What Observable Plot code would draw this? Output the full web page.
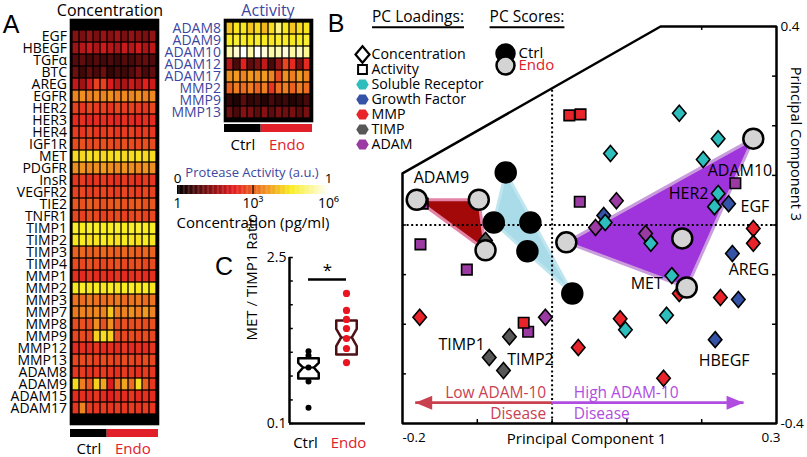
<!DOCTYPE html>
<html><head><meta charset="utf-8">
<script src="https://cdn.jsdelivr.net/npm/d3@7"></script>
<script src="https://cdn.jsdelivr.net/npm/@observablehq/plot@0.6"></script>
<style>
body{margin:0;background:#fff;}
#fig{position:relative;width:807px;height:457px;overflow:hidden;font-family:"Open Sans",sans-serif;color:#000;background:#fff;}
.t{position:absolute;white-space:nowrap;line-height:1;}
</style></head><body><div id="fig"></div>
<script>
// ================= DATA =================
const sampleGroup = ["Ctrl","Ctrl","Ctrl","Ctrl","Ctrl","Endo","Endo","Endo","Endo","Endo","Endo","Endo"];
const groupNames = ["Ctrl","Endo"];
const groupColors = ["#000000","#e2202a"];

const concRows = ["EGF","HBEGF","TGFα","BTC","AREG","EGFR","HER2","HER3","HER4","IGF1R","MET","PDGFR","InsR","VEGFR2","TIE2","TNFR1","TIMP1","TIMP2","TIMP3","TIMP4","MMP1","MMP2","MMP3","MMP7","MMP8","MMP9","MMP12","MMP13","ADAM8","ADAM9","ADAM15","ADAM17"];
// colour level (log10 concentration / 6) per row, 12 samples
const concLevels = [
 [0.22,0.20,0.24,0.20,0.25,0.22,0.26,0.20,0.24,0.22,0.20,0.24],
 [0.26,0.30,0.33,0.28,0.34,0.30,0.28,0.33,0.30,0.34,0.28,0.31],
 [0.14,0.16,0.12,0.14,0.11,0.13,0.10,0.14,0.12,0.15,0.17,0.13],
 [0.18,0.10,0.16,0.12,0.18,0.08,0.12,0.10,0.14,0.20,0.12,0.16],
 [0.32,0.26,0.35,0.44,0.44,0.36,0.30,0.28,0.34,0.30,0.38,0.34],
 [0.56,0.58,0.55,0.57,0.56,0.58,0.55,0.57,0.56,0.58,0.55,0.57],
 [0.44,0.42,0.45,0.43,0.44,0.42,0.45,0.43,0.44,0.43,0.42,0.45],
 [0.40,0.41,0.39,0.40,0.41,0.40,0.39,0.41,0.40,0.39,0.41,0.40],
 [0.43,0.42,0.44,0.42,0.43,0.44,0.42,0.43,0.44,0.42,0.43,0.42],
 [0.46,0.47,0.45,0.46,0.47,0.46,0.45,0.47,0.46,0.45,0.47,0.46],
 [0.72,0.71,0.73,0.72,0.71,0.72,0.73,0.71,0.72,0.73,0.71,0.72],
 [0.58,0.59,0.57,0.58,0.60,0.58,0.57,0.59,0.58,0.57,0.59,0.58],
 [0.42,0.43,0.41,0.42,0.43,0.42,0.41,0.43,0.42,0.41,0.43,0.42],
 [0.44,0.45,0.43,0.44,0.45,0.44,0.43,0.45,0.44,0.43,0.45,0.44],
 [0.48,0.47,0.49,0.48,0.47,0.48,0.49,0.47,0.48,0.49,0.47,0.48],
 [0.45,0.44,0.46,0.45,0.44,0.45,0.46,0.44,0.45,0.46,0.44,0.45],
 [0.76,0.75,0.77,0.76,0.75,0.76,0.77,0.75,0.76,0.77,0.75,0.76],
 [0.74,0.75,0.73,0.74,0.75,0.74,0.73,0.75,0.74,0.73,0.75,0.74],
 [0.50,0.51,0.49,0.50,0.51,0.50,0.49,0.51,0.50,0.49,0.51,0.50],
 [0.46,0.45,0.47,0.46,0.45,0.46,0.47,0.45,0.46,0.47,0.45,0.46],
 [0.41,0.40,0.42,0.40,0.41,0.40,0.42,0.40,0.41,0.42,0.40,0.41],
 [0.74,0.76,0.74,0.75,0.74,0.76,0.74,0.75,0.76,0.74,0.75,0.74],
 [0.53,0.52,0.54,0.53,0.52,0.53,0.54,0.52,0.53,0.54,0.52,0.53],
 [0.54,0.56,0.55,0.57,0.56,0.68,0.55,0.56,0.58,0.55,0.60,0.56],
 [0.46,0.47,0.46,0.58,0.47,0.58,0.46,0.47,0.46,0.47,0.46,0.47],
 [0.45,0.46,0.45,0.70,0.72,0.70,0.46,0.45,0.46,0.45,0.46,0.45],
 [0.40,0.41,0.40,0.42,0.40,0.41,0.40,0.42,0.40,0.41,0.40,0.42],
 [0.45,0.46,0.45,0.44,0.46,0.45,0.44,0.46,0.45,0.44,0.46,0.45],
 [0.42,0.43,0.41,0.42,0.43,0.42,0.41,0.43,0.42,0.41,0.43,0.42],
 [0.72,0.55,0.48,0.70,0.62,0.36,0.52,0.62,0.52,0.72,0.50,0.42],
 [0.40,0.41,0.40,0.42,0.40,0.38,0.41,0.40,0.42,0.40,0.41,0.40],
 [0.42,0.56,0.43,0.42,0.43,0.42,0.43,0.42,0.43,0.42,0.43,0.42]
];

const actRows = ["ADAM8","ADAM9","ADAM10","ADAM12","ADAM17","MMP2","MMP9","MMP13"];
const actLevels = [
 [0.68,0.74,0.74,0.68,0.72,0.65,0.72,0.86,0.74,0.68,0.72,0.74],
 [0.75,0.77,0.76,0.74,0.77,0.75,0.74,0.77,0.76,0.74,0.75,0.77],
 [0.90,0.95,1.00,0.90,1.00,0.96,0.90,0.92,0.96,0.90,0.93,0.88],
 [0.30,0.12,0.38,0.15,0.20,0.32,0.12,0.25,0.45,0.40,0.20,0.40],
 [0.58,0.60,0.56,0.60,0.58,0.60,0.56,0.45,0.58,0.55,0.60,0.56],
 [0.50,0.55,0.52,0.55,0.50,0.55,0.42,0.52,0.55,0.50,0.55,0.52],
 [0.08,0.05,0.15,0.08,0.10,0.06,0.12,0.08,0.10,0.06,0.08,0.12],
 [0.18,0.12,0.22,0.20,0.15,0.22,0.15,0.20,0.18,0.20,0.15,0.20]
];

// colourbar tick labels
const cbBottomTicks = [0, 3, 6];
const cbBottomLabels = ["1", "10³", "10⁶"];
const cbTopTicks = [0, 6];
const cbTopLabels = ["0", "1"];

// Panel C: MET / TIMP1 ratio
const ctrlRatio = [0.405, 0.374, 0.296, 0.226, 0.136];
const endoRatio = [1.245, 0.895, 0.752, 0.631, 0.520, 0.428, 0.326];
const boxQ1  = [0.239, 0.381];
const boxMed = [0.296, 0.530];
const boxQ3  = [0.355, 0.738];
const cTicks = [0.1, 0.158, 0.251, 0.398, 0.631, 1, 1.585, 2.5];
const cTickLabels = [0.1, 2.5];
const sigLevel = 1.63;

// Panel B: PC loadings (concentration = diamonds)
const concPC1 = [0.236,0.218,0.241,0.249,0.069,
                 0.170,0.078,0.222,0.202,0.222,0.217,0.071,0.132,0.160,0.153,0.098,
                 -0.177,0.269,0.269,0.170,0.225,0.091,0.035,0.149,
                 -0.089,-0.057,-0.084,-0.065,
                 -0.009,0.086,0.058,0.125];
const concPC3 = [0.043,-0.231,-0.0575,-0.150,0.019,
                 0.225,0.144,0.174,0.132,0.0635,0.037,0.005,-0.037,-0.102,-0.182,-0.211,
                 -0.186,-0.007,-0.037,-0.138,-0.146,-0.189,-0.247,-0.309,
                 -0.031,-0.225,-0.267,-0.293,
                 -0.186,0.049,-0.005,-0.017];
const concClass = ["GF","GF","GF","GF","GF",
                   "SR","SR","SR","SR","SR","SR","SR","SR","SR","SR","SR",
                   "MMP","MMP","MMP","MMP","MMP","MMP","MMP","MMP",
                   "TIMP","TIMP","TIMP","TIMP",
                   "ADAM","ADAM","ADAM","ADAM"];
// activity = squares
const actPC1 = [-0.173,-0.176,-0.114,-0.032,0.245,0.037, 0.023,0.038,-0.038];
const actPC3 = [0.043,-0.039,-0.090,-0.215,0.084,0.047, 0.221,0.223,-0.197];
const actClass = ["ADAM","ADAM","ADAM","ADAM","ADAM","ADAM","MMP","MMP","MMP"];

const classNames = ["SR","GF","MMP","TIMP","ADAM"];
const classColors = ["#2dbdbd","#3452a6","#e8242a","#575757","#9a3aa2"];
const legendEntries = ["Concentration","Activity","Soluble Receptor","Growth Factor","MMP","TIMP","ADAM"];

// PC scores
const scorePC1 = [-0.062,-0.078,-0.029,-0.033,0.027, -0.181,-0.098,-0.089, 0.019,0.174,0.180,0.269];
const scorePC3 = [0.106,0.005,0.005,-0.053,-0.138, 0.051,0.051,-0.051, -0.035,-0.027,-0.126,0.174];
const scoreHull = ["ctrl","ctrl","ctrl","ctrl","ctrl","low","low","low","high","high","high","high"];
const hullNames = ["ctrl","low","high"];
const hullFills = ["#a9dbe8","#a30909","#9f33dc"];
const hullStrokes = ["#bfe5ef","#e483a6","#c99ddc"];

// frame outline of panel B
const frameX = [-0.2, 0.145, 0.3, 0.3, -0.2, -0.2];
const frameY = [0.104, 0.4, 0.4, -0.4, -0.4, 0.104];
const xTicks = [-0.1, 0, 0.1, 0.2];
const yTicks = [-0.3, -0.2, -0.1, 0, 0.1, 0.2, 0.3];

// annotations of panel B
const pcLabelText = ["ADAM9","ADAM10","HER2","EGF","AREG","MET","HBEGF","TIMP1","TIMP2"];
const pcLabelX = [-0.185, 0.208, 0.156, 0.252, 0.236, 0.105, 0.196, -0.152, -0.060];
const pcLabelY = [0.094, 0.110, 0.063, 0.037, -0.091, -0.1185, -0.2735, -0.241, -0.271];
const arrowY = -0.358;
const arrowTips = [-0.183, 0.256];
const arrowColors = ["#c9414f", "#b04ce0"];
const arrowLine1 = ["Low ADAM-10", "High ADAM-10"];
const arrowLine2 = ["Disease", "Disease"];
const arrowTextX = [-0.008, 0.029];
const arrowTextY1 = -0.338, arrowTextY2 = -0.380;

// ================= HELPERS =================
const fig = document.getElementById("fig");
const FONT = "Open Sans";
const hotScale = d3.scaleLinear().domain([0, 0.375, 0.75, 1]).range(["#000000","#e41d1f","#f9ed1f","#ffffff"]).clamp(true);
const hot = t => hotScale(t);
function put(el, left, top){ el.style.position="absolute"; el.style.left=left+"px"; el.style.top=top+"px"; el.style.margin="0"; fig.appendChild(el); return el; }
function label(text, x, y, o={}){
  const d=document.createElement("div"); d.className="t"; d.textContent=text;
  d.style.left=x+"px"; d.style.top=y+"px"; d.style.fontSize=(o.size||14)+"px";
  d.style.color=o.color||"#000"; d.style.fontFamily=o.family||FONT;
  const ax = o.anchor==="start"?"0":o.anchor==="end"?"-100%":"-50%";
  d.style.transform=`translate(${ax},-50%)`;
  if(o.underline){ d.style.textDecoration="underline"; d.style.textDecorationThickness="2px"; d.style.textUnderlineOffset="4px"; }
  fig.appendChild(d); return d;
}
const baseStyle = (size, color="#000") => ({fontFamily: FONT, fontSize: size+"px", background:"transparent", overflow:"visible", color});
const sampleIds = d3.range(sampleGroup.length);
const groupSpans = groupNames.map((g,i)=>({g, c: groupColors[i], x1: sampleGroup.indexOf(g), x2: sampleGroup.lastIndexOf(g)+1}));

function heatmap(rows, levels, o){
  const cells = rows.flatMap((r,i)=>levels[i].map((v,j)=>({row:r, s:j, v})));
  return Plot.plot({
    width:o.width, height:o.height, marginLeft:o.ml, marginRight:o.mr, marginTop:o.mt, marginBottom:o.mb,
    x:{type:"band", domain:sampleIds, axis:null, padding:0},
    y:{type:"band", domain:rows, padding:0, axis:null},
    color:{type:"linear", domain:[0,1], interpolate:hot},
    style: baseStyle(14),
    marks:[
      Plot.frame({fill:"black"}),
      Plot.cell(cells, {x:"s", y:"row", fill:"v", inset:0.65}),
      Plot.frame({stroke:"black", strokeWidth:1.6}),
      Plot.text(rows, {y:d=>d, text:d=>d, frameAnchor:"left", textAnchor:"end", dx:-3.5, fontSize:14, fill:o.color||"#000"})
    ]
  });
}
function groupBar(o){
  return Plot.plot({
    width:o.width, height:o.height, marginLeft:o.ml, marginRight:o.mr, marginTop:o.mt, marginBottom:o.mb,
    x:{domain:[0, sampleGroup.length], axis:null},
    y:{domain:[0,1], axis:null},
    color:{type:"identity"},
    style: baseStyle(15),
    marks:[
      Plot.rect(groupSpans, {x1:"x1", x2:"x2", y1:0, y2:1, fill:"c"}),
      Plot.text(groupSpans, {x:d=>(d.x1+d.x2)/2, y:0, dy:o.dy, text:"g", fill:"c", fontSize:15})
    ]
  });
}

// ================= PANEL A =================
put(heatmap(concRows, concLevels, {width:162, height:428, ml:70, mr:4, mt:19, mb:4}), 0, 0);
put(groupBar({width:162, height:33, ml:70, mr:4, mt:3, mb:22, dy:12}), 0, 426);
label("Concentration", 110, 9.5, {size:16});
label("A", 11, 24, {size:25, family:"Liberation Sans"});

put(heatmap(actRows, actLevels, {width:165, height:124, ml:74, mr:3, mt:19, mb:3, color:"#3c46a0"}), 150, 0);
put(groupBar({width:165, height:33, ml:74, mr:3, mt:3, mb:22, dy:13}), 150, 121);
label("Activity", 268, 9.5, {size:16, color:"#3c46a0"});

// colour bar
const cbStops = d3.range(0, 6, 0.05);
put(Plot.plot({
  width:175, height:70, marginLeft:7, marginRight:17, marginTop:25, marginBottom:36,
  x:{domain:[0,6], axis:null}, y:{domain:[0,1], axis:null},
  color:{type:"linear", domain:[0,1], interpolate:hot},
  style: baseStyle(13),
  marks:[
    Plot.rect(cbStops, {x1:d=>d, x2:d=>Math.min(6, d+0.06), y1:0, y2:1, fill:d=>d/6}),
    Plot.ruleX([3], {y1:0, y2:1, stroke:"black", strokeWidth:1.2}),
    Plot.text(cbBottomTicks, {x:d=>d, y:0, dy:9, text:(d,i)=>cbBottomLabels[i], fontSize:14}),
    Plot.text(cbTopTicks, {x:d=>d, y:1, dy:-7, text:(d,i)=>cbTopLabels[i], fontSize:13.5})
  ]
}), 170, 160);
label("Protease Activity (a.u.)", 252, 172, {size:13, color:"#3c46a0"});
label("Concentration (pg/ml)", 253, 222, {size:15});

// ================= PANEL C =================
const cDots = [...ctrlRatio.map(v=>({x:1, v})), ...endoRatio.map(v=>({x:2, v}))];
const lg = Math.log10;
const boxW = 0.27, waistW = 0.14;
const boxPts = groupNames.flatMap((g,i)=>{
  const x=i+1, q1=boxQ1[i], m=boxMed[i], q3=boxQ3[i];
  const nHi = 10**(lg(m)+0.5*(lg(q3)-lg(m))), nLo = 10**(lg(m)+0.5*(lg(q1)-lg(m)));
  return [[x-boxW,q3],[x+boxW,q3],[x+boxW,nHi],[x+waistW,m],[x+boxW,nLo],[x+boxW,q1],[x-boxW,q1],[x-boxW,nLo],[x-waistW,m],[x-boxW,nHi]]
    .map(([px,py])=>({g, x:px, y:py}));
});
const boxColor = ["#000000","#4d1014"];
put(Plot.plot({
  width:150, height:215, marginLeft:69, marginRight:5, marginTop:17, marginBottom:32,
  x:{domain:[0.5,2.5], axis:null},
  y:{type:"log", domain:[0.1,2.5], axis:null},
  style: baseStyle(14),
  marks:[
    Plot.ruleY(cTicks, {x1:0.5, x2:0.6, strokeWidth:1.5}),
    Plot.line(boxPts.filter(d=>d.g==="Ctrl"), {x:"x", y:"y", curve:"linear-closed", stroke:boxColor[0], strokeWidth:2.5}),
    Plot.line(boxPts.filter(d=>d.g==="Endo"), {x:"x", y:"y", curve:"linear-closed", stroke:boxColor[1], strokeWidth:2.5}),
    Plot.link([0], {x1:1-waistW, x2:1+waistW, y1:boxMed[0], y2:boxMed[0], stroke:boxColor[0], strokeWidth:2}),
    Plot.link([0], {x1:2-waistW, x2:2+waistW, y1:boxMed[1], y2:boxMed[1], stroke:boxColor[1], strokeWidth:2}),
    Plot.dot(cDots.filter(d=>d.x===1), {x:"x", y:"v", r:3, fill:"black"}),
    Plot.dot(cDots.filter(d=>d.x===2), {x:"x", y:"v", r:3.6, fill:"#ea1520"}),
    Plot.ruleY([sigLevel], {x1:1, x2:2, strokeWidth:2.5}),
    Plot.text(["*"], {x:1.5, y:sigLevel, dy:-9, fontSize:17}),
    Plot.ruleX([0.5], {strokeWidth:2.5}),
    Plot.ruleY([0.1], {strokeWidth:2.5}),
    Plot.text(cTickLabels, {x:0.5, y:d=>d, text:d=>String(d), textAnchor:"end", dx:-3, fontSize:14}),
    Plot.text(["MET / TIMP1 Ratio"], {frameAnchor:"left", rotate:-90, dx:-37, fontSize:15}),
    Plot.text([groupNames[0]], {x:1, y:0.1, dy:20, text:d=>d, fontSize:15, dx:-3}),
    Plot.text([groupNames[1]], {x:2, y:0.1, dy:20, text:d=>d, fontSize:15, fill:groupColors[1], dx:2})
  ]
}), 220, 240);
label("C", 224, 266, {size:25, family:"Liberation Sans"});

// ================= PANEL B =================
const diamondSym = {draw(ctx, size){ const r=Math.sqrt(size/Math.PI); const h=r*1.6, w=r*1.35; ctx.moveTo(0,-h); ctx.lineTo(w,0); ctx.lineTo(0,h); ctx.lineTo(-w,0); ctx.closePath(); }};
const squareSym = {draw(ctx, size){ const r=Math.sqrt(size/Math.PI); const a=r*1.05; ctx.moveTo(-a,-a); ctx.lineTo(a,-a); ctx.lineTo(a,a); ctx.lineTo(-a,a); ctx.closePath(); }};
const hexSym = {draw(ctx, size){ const r=Math.sqrt(size/Math.PI); const w=r*1.25, h=r; ctx.moveTo(-w,0); ctx.lineTo(-w/2,-h); ctx.lineTo(w/2,-h); ctx.lineTo(w,0); ctx.lineTo(w/2,h); ctx.lineTo(-w/2,h); ctx.closePath(); }};
const triSym = {draw(ctx, size){ const r=Math.sqrt(size/Math.PI); const L=r*1.7, H=r*1.4; ctx.moveTo(0,0); ctx.lineTo(-L,-H/2); ctx.lineTo(-L,H/2); ctx.closePath(); }};
const colorOf = c => classColors[classNames.indexOf(c)];

const concPts = concPC1.map((x,i)=>({x, y:concPC3[i], c:colorOf(concClass[i])}));
const actPts = actPC1.map((x,i)=>({x, y:actPC3[i], c:colorOf(actClass[i])}));
const scorePts = scorePC1.map((x,i)=>({x, y:scorePC3[i], g:sampleGroup[i], h:scoreHull[i]}));
const hullMarks = hullNames.map((h,k)=>{
  const pts = scorePts.filter(d=>d.h===h).map(d=>[d.x,d.y]);
  const hull = d3.polygonHull(pts).map(([x,y])=>({x,y}));
  return Plot.line(hull, {x:"x", y:"y", curve:"linear-closed", fill:hullFills[k], stroke:hullStrokes[k], strokeWidth:3, strokeLinejoin:"round"});
});
const framePts = frameX.map((x,i)=>({x, y:frameY[i]}));
const topAt = x => d3.scaleLinear().domain([frameX[0], frameX[1]]).range([frameY[0], frameY[1]])(x);
const pcLabels = pcLabelText.map((t,i)=>({t, x:pcLabelX[i], y:pcLabelY[i]}));
const arrows = arrowTips.map((tip,i)=>({tip, c:arrowColors[i], l1:arrowLine1[i], l2:arrowLine2[i], tx:arrowTextX[i]}));

put(Plot.plot({
  width:427, height:457, marginLeft:22, marginRight:31, marginTop:26, marginBottom:34,
  x:{domain:[-0.2,0.3], axis:null},
  y:{domain:[-0.4,0.4], axis:null},
  color:{type:"identity"},
  style: baseStyle(15),
  marks:[
    ...hullMarks,
    Plot.ruleX([0], {y1:-0.4, y2:topAt(0), strokeDasharray:"2,2.6", strokeWidth:2}),
    Plot.ruleY([0], {x1:-0.2, x2:0.3, strokeDasharray:"2,2.6", strokeWidth:2}),
    Plot.line(framePts, {x:"x", y:"y", strokeWidth:2.5, strokeLinejoin:"miter"}),
    Plot.ruleX(xTicks, {y1:-0.4, y2:-0.392, strokeWidth:1.5}),
    Plot.ruleX(xTicks.filter(x=>x>frameX[1]), {y1:0.4, y2:0.392, strokeWidth:1.5}),
    Plot.ruleY(yTicks, {x1:0.2947, x2:0.3, strokeWidth:1.5}),
    Plot.ruleY(yTicks.filter(y=>y<frameY[0]-0.02), {x1:-0.2, x2:-0.1947, strokeWidth:1.5}),
    Plot.text([-0.2], {x:d=>d, y:-0.4, dy:14, text:d=>String(d), textAnchor:"start", fontSize:13.5}),
    Plot.text([0.3], {x:d=>d, y:-0.4, dy:14, dx:4, text:d=>String(d), textAnchor:"end", fontSize:13.5}),
    Plot.text([0.4, -0.4], {x:0.3, y:d=>d, dx:4, text:d=>String(d), textAnchor:"start", fontSize:13.5}),
    Plot.text(["Principal Component 1"], {frameAnchor:"bottom", dx:-3, dy:20, fontSize:15}),
    Plot.text(["Principal Component 3"], {frameAnchor:"right", rotate:90, dx:19, dy:-4, fontSize:14.5}),
    Plot.dot(concPts, {x:"x", y:"y", symbol:diamondSym, r:5, fill:"c", stroke:"black", strokeWidth:1.6}),
    Plot.dot(actPts, {x:"x", y:"y", symbol:squareSym, r:5, fill:"c", stroke:"black", strokeWidth:1.6}),
    Plot.dot(scorePts, {x:"x", y:"y", r:10, fill:d=>d.g==="Ctrl"?"#000000":"#d4d4d4", stroke:"black", strokeWidth:2.5}),
    Plot.text(pcLabels, {x:"x", y:"y", text:"t", textAnchor:"start", fontSize:16}),
    Plot.link(arrows, {x1:0, x2:"tip", y1:arrowY, y2:arrowY, stroke:"c", strokeWidth:2.6}),
    Plot.dot(arrows.slice(0,1), {x:"tip", y:arrowY, symbol:triSym, r:10, fill:"c", rotate:180}),
    Plot.dot(arrows.slice(1), {x:"tip", y:arrowY, symbol:triSym, r:10, fill:"c"}),
    Plot.text(arrows.slice(0,1), {x:"tx", y:arrowTextY1, text:"l1", fill:"c", textAnchor:"end", fontSize:15.5}),
    Plot.text(arrows.slice(0,1), {x:"tx", y:arrowTextY2, text:"l2", fill:"c", textAnchor:"end", fontSize:15.5}),
    Plot.text(arrows.slice(1), {x:"tx", y:arrowTextY1, text:"l1", fill:"c", textAnchor:"start", fontSize:15.5}),
    Plot.text(arrows.slice(1), {x:"tx", y:arrowTextY2, text:"l2", fill:"c", textAnchor:"start", fontSize:15.5})
  ]
}), 380, 0);

// legend of loadings
put(Plot.plot({
  width:140, height:135, marginLeft:0, marginRight:0, marginTop:0, marginBottom:0,
  x:{domain:[0,1], range:[12,21], axis:null},
  y:{type:"point", domain:legendEntries, range:[13,124], axis:null},
  color:{type:"identity"},
  style: baseStyle(14),
  marks:[
    Plot.dot(legendEntries.slice(0,1), {x:0, y:d=>d, symbol:diamondSym, r:5.2, fill:"white", stroke:"black", strokeWidth:2.2}),
    Plot.dot(legendEntries.slice(1,2), {x:0, y:d=>d, symbol:squareSym, r:4.2, fill:"white", stroke:"black", strokeWidth:2}),
    Plot.dot(legendEntries.slice(2), {x:0, y:d=>d, symbol:hexSym, r:5, fill:(d,i)=>classColors[i]}),
    Plot.text(legendEntries, {x:1, y:d=>d, text:d=>d, textAnchor:"start", fontSize:14.2})
  ]
}), 350, 30);
// legend of scores
put(Plot.plot({
  width:80, height:55, marginLeft:0, marginRight:0, marginTop:0, marginBottom:0,
  x:{domain:[0,1], range:[15,28], axis:null},
  y:{type:"point", domain:groupNames, range:[17,41], axis:null},
  color:{type:"identity"},
  style: baseStyle(14),
  marks:[
    Plot.dot(groupNames, {x:0, y:d=>d, r:9, fill:d=>d==="Ctrl"?"#000000":"#d4d4d4", stroke:"black", strokeWidth:2.5}),
    Plot.text(groupNames, {x:1, y:d=>d, text:d=>d, textAnchor:"start", fill:(d,i)=>i===0?"#000000":groupColors[1], fontSize:15})
  ]
}), 490, 30);
label("PC Loadings:", 418, 17, {size:15.5, underline:true});
label("PC Scores:", 527, 17, {size:15.5, underline:true});
label("B", 336, 23, {size:25, family:"Liberation Sans"});
</script></body></html>
